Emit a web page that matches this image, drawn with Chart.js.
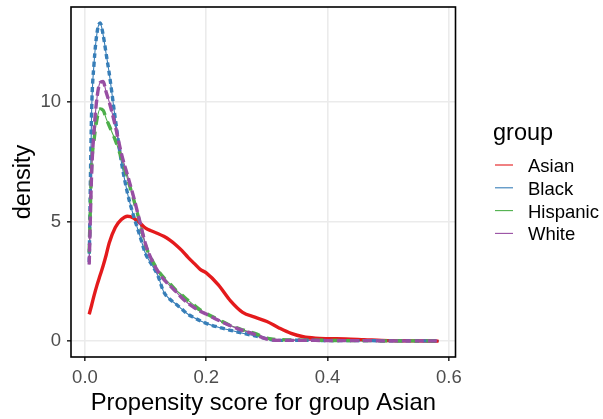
<!DOCTYPE html>
<html><head><meta charset="utf-8">
<script src="https://cdn.jsdelivr.net/npm/chart.js@4/dist/chart.umd.min.js"></script>
<style>html,body{margin:0;padding:0;background:#fff;}#wrap{width:603px;height:419px;}</style>
</head><body><div id="wrap"><canvas id="c" width="603" height="419"></canvas></div>
<script>
const groups = ['Asian', 'Black', 'Hispanic', 'White'];
const xGrid = [0.007, 0.011, 0.015, 0.02, 0.025, 0.03, 0.035, 0.04, 0.05, 0.06, 0.07, 0.08, 0.09, 0.1, 0.11, 0.12, 0.13, 0.14, 0.15, 0.16, 0.17, 0.18, 0.19, 0.2, 0.22, 0.24, 0.26, 0.28, 0.3, 0.32, 0.34, 0.36, 0.38, 0.4, 0.43, 0.46, 0.5, 0.54, 0.583];
const asian = [1.12, 1.5, 1.9, 2.35, 2.75, 3.15, 3.6, 4.1, 4.75, 5.08, 5.22, 5.15, 4.95, 4.72, 4.6, 4.5, 4.38, 4.22, 4.02, 3.78, 3.5, 3.25, 3.0, 2.85, 2.35, 1.68, 1.2, 1.0, 0.82, 0.55, 0.32, 0.18, 0.12, 0.1, 0.09, 0.06, 0.02, 0.01, 0.0];
const black = [3.3, 9.6, 11.6, 12.9, 13.3, 12.8, 12.0, 11.2, 9.3, 7.5, 6.2, 5.25, 4.45, 3.65, 3.2, 2.75, 2.05, 1.75, 1.55, 1.33, 1.12, 0.98, 0.85, 0.74, 0.58, 0.45, 0.33, 0.22, 0.1, 0.03, 0.03, 0.04, 0.03, 0.02, 0.02, 0.02, 0.01, 0.01, 0.01];
const hispanic = [3.7, 7.3, 8.4, 9.3, 9.7, 9.65, 9.3, 9.0, 8.4, 7.65, 6.8, 5.95, 5.0, 4.0, 3.42, 2.97, 2.65, 2.4, 2.13, 1.92, 1.7, 1.5, 1.3, 1.15, 0.9, 0.65, 0.47, 0.32, 0.12, 0.06, 0.05, 0.04, 0.04, 0.03, 0.02, 0.02, 0.01, 0.01, 0.01];
const white = [3.2, 7.0, 8.8, 10.2, 10.8, 10.85, 10.4, 10.0, 9.0, 7.85, 6.95, 6.05, 5.05, 4.05, 3.4, 2.93, 2.58, 2.32, 2.07, 1.8, 1.58, 1.4, 1.25, 1.13, 0.87, 0.64, 0.45, 0.28, 0.08, 0.03, 0.03, 0.03, 0.03, 0.02, 0.02, 0.02, 0.01, 0.01, 0.01];
const xTicks = [0, 0.2, 0.4, 0.6];
const yTicks = [0, 5, 10];
const xTitle = 'Propensity score for group Asian';
const yTitle = 'density';
const legendTitle = 'group';

const seriesValues = [asian, black, hispanic, white];
const colors = ['#E41A1C', '#377EB8', '#4DAF4A', '#984EA3'];
const dashes = [[], [5, 3.5], [9, 7], [9, 4]];
const FONT = '"Liberation Sans", Arial, Helvetica, sans-serif';

const datasets = [];
groups.forEach((g, i) => {
  const pts = xGrid.map((x, k) => ({x: x, y: seriesValues[i][k]}));
  datasets.push({label: g + ' ', data: pts, borderColor: colors[i], borderWidth: 3.4, borderDash: dashes[i],
    pointRadius: 0, fill: false, cubicInterpolationMode: 'monotone', isMain: false, order: 10 - i});
  datasets.push({label: g, data: pts, borderColor: colors[i], borderWidth: 1.1,
    pointRadius: 0, fill: false, cubicInterpolationMode: 'monotone', isMain: true, order: 20 - i});
});

const ggExtras = {
  id: 'ggExtras',
  afterDraw(chart) {
    const {ctx, chartArea: a} = chart;
    ctx.save();
    ctx.strokeStyle = '#000';
    ctx.lineWidth = 1.6;
    ctx.strokeRect(a.left, a.top, a.right - a.left, a.bottom - a.top);
    // legend
    ctx.fillStyle = '#000';
    ctx.textBaseline = 'alphabetic';
    ctx.textAlign = 'left';
    ctx.font = '23.5px ' + FONT;
    ctx.fillText(legendTitle, 493, 140);
    ctx.font = '18.5px ' + FONT;
    const mains = chart.data.datasets.filter(d => d.isMain);
    mains.forEach((d, i) => {
      const y = 165 + i * 22.8;
      ctx.strokeStyle = d.borderColor;
      ctx.lineWidth = 1.1;
      ctx.beginPath(); ctx.moveTo(495, y); ctx.lineTo(513, y); ctx.stroke();
      ctx.fillText(d.label, 528, y + 7);
    });
    ctx.restore();
  }
};

new Chart(document.getElementById('c'), {
  type: 'line',
  data: {datasets: datasets},
  options: {
    responsive: false,
    animation: false,
    devicePixelRatio: 1,
    layout: {padding: {top: 7, right: 147.5, left: 0, bottom: 0}},
    plugins: {legend: {display: false}, tooltip: {enabled: false}},
    scales: {
      x: {
        type: 'linear', min: -0.023, max: 0.611,
        afterFit(s) { s.height = 62; s.paddingLeft = 0; s.paddingRight = 0; },
        afterBuildTicks(s) { s.ticks = xTicks.map(v => ({value: v})); },
        grid: {color: '#EBEBEB', lineWidth: 1.6, tickColor: '#333333', tickLength: 4, drawTicks: true},
        border: {display: false},
        ticks: {color: '#4D4D4D', font: {family: FONT, size: 18.5}, padding: 6, maxRotation: 0,
          callback: v => Number(v).toFixed(1)},
        title: {display: true, text: xTitle, color: '#000', font: {family: FONT, size: 23.8}, padding: {top: 0, bottom: 1.5}}
      },
      y: {
        type: 'linear', min: -0.665, max: 13.965,
        afterFit(s) { s.width = 71; s.paddingTop = 0; s.paddingBottom = 0; },
        afterBuildTicks(s) { s.ticks = yTicks.map(v => ({value: v})); },
        grid: {color: '#EBEBEB', lineWidth: 1.6, tickColor: '#333333', tickLength: 4, drawTicks: true},
        border: {display: false},
        ticks: {color: '#4D4D4D', font: {family: FONT, size: 18.5}, padding: 6,
          callback: v => String(v)},
        title: {display: true, text: yTitle, color: '#000', font: {family: FONT, size: 23.5}, padding: {top: 9, bottom: 0}}
      }
    }
  },
  plugins: [ggExtras]
});
</script></body></html>
